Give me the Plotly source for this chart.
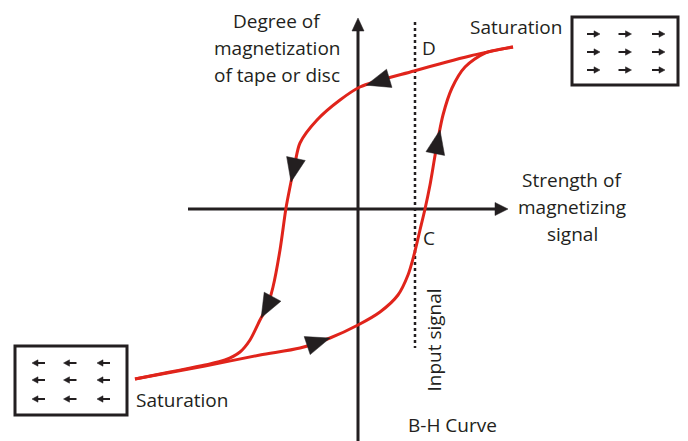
import numpy as np
import plotly.graph_objects as go

# ---- data (coordinates relative to the axes origin, y up) ----
desc_x = [155, 112, 56, 2, -18, -41, -58, -63, -68, -72, -78, -85, -91, -98, -108, -118, -133, -153, -188, -223]
desc_y = [162, 153, 138, 122, 109, 89, 66, 46, 22, 1, -41, -78, -98, -111, -131, -143, -151, -156, -163, -170]
asc_x = [-223, -153, -98, -58, -28, 0, 22, 40, 50, 56, 62, 67, 72, 78, 85, 94, 107, 127, 155]
asc_y = [-170, -157, -146, -139, -129, -116, -103, -86, -66, -46, -21, 0, 24, 59, 94, 121, 142, 156, 162]

desc_arrow_t = [0.266, 0.493, 0.738]
asc_arrow_t = [0.348, 0.788]

input_x = 57
input_y = [187, -139]

box_right = dict(x0=214, x1=320, y0=124, y1=192)
box_right_cols = [235.5, 267, 300.5]
box_right_rows = [175, 157, 139]
box_left = dict(x0=-343, x1=-231, y0=-206, y1=-137)
box_left_cols = [-319.5, -288, -254.5]
box_left_rows = [-154, -171, -190]

y_label_lines = ["Degree of", "magnetization", "of tape or disc"]
x_label_lines = ["Strength of", "magnetizing", "signal"]

RED = "#e0241b"
BLK = "#231f20"
FONT = "Open Sans"
FS = 19
LINE_GAP = 27

fig = go.Figure()

shapes = []


def tri(tip, d, L, W, color=BLK):
    d = np.asarray(d, float)
    d = d / np.linalg.norm(d)
    p = np.array([-d[1], d[0]])
    tip = np.asarray(tip, float)
    back = tip - d * L
    a = back + p * W
    b = back - p * W
    return dict(type="path", xref="x", yref="y",
                path=f"M {tip[0]} {tip[1]} L {a[0]} {a[1]} L {b[0]} {b[1]} Z",
                fillcolor=color, line=dict(color=color, width=0.5), layer="above")


def point_at(xs, ys, t):
    xs = np.asarray(xs, float)
    ys = np.asarray(ys, float)
    seg = np.hypot(np.diff(xs), np.diff(ys))
    cum = np.concatenate([[0], np.cumsum(seg)])
    s = t * cum[-1]
    i = min(np.searchsorted(cum, s) - 1, len(seg) - 1)
    i = max(i, 0)
    f = (s - cum[i]) / seg[i]
    x = xs[i] + f * (xs[i + 1] - xs[i])
    y = ys[i] + f * (ys[i + 1] - ys[i])
    d = (xs[i + 1] - xs[i], ys[i + 1] - ys[i])
    return (x, y), d


# axes
shapes.append(dict(type="line", x0=0, x1=0, y0=-232, y1=180, line=dict(color=BLK, width=3), layer="below"))
shapes.append(dict(type="line", x0=-170, x1=140, y0=0, y1=0, line=dict(color=BLK, width=3), layer="below"))
shapes.append(tri((0, 191), (0, 1), 13, 6))
shapes.append(tri((150, 0), (1, 0), 13, 6.5))

# dotted input signal line
shapes.append(dict(type="line", x0=input_x, x1=input_x, y0=input_y[0], y1=input_y[1],
                   line=dict(color=BLK, width=2.5, dash="dot"), layer="below"))

# curve arrows
for t in desc_arrow_t:
    pt, d = point_at(desc_x, desc_y, t)
    shapes.append(tri(pt, d, 24, 9.5))
for t in asc_arrow_t:
    pt, d = point_at(asc_x, asc_y, t)
    shapes.append(tri(pt, d, 24, 9.5))

# boxes
for b in (box_right, box_left):
    shapes.append(dict(type="rect", x0=b["x0"], x1=b["x1"], y0=b["y0"], y1=b["y1"],
                       line=dict(color=BLK, width=3), fillcolor="white", layer="below"))
for cx in box_right_cols:
    for cy in box_right_rows:
        shapes.append(dict(type="line", x0=cx - 6.5, x1=cx + 1, y0=cy, y1=cy, line=dict(color=BLK, width=2)))
        shapes.append(tri((cx + 6.5, cy), (1, 0), 6, 3.2))
for cx in box_left_cols:
    for cy in box_left_rows:
        shapes.append(dict(type="line", x0=cx + 6.5, x1=cx - 1, y0=cy, y1=cy, line=dict(color=BLK, width=2)))
        shapes.append(tri((cx - 6.5, cy), (-1, 0), 6, 3.2))

# curves
fig.add_trace(go.Scatter(x=desc_x, y=desc_y, mode="lines",
                         line=dict(color=RED, width=3, shape="spline", smoothing=0.8),
                         hoverinfo="skip", showlegend=False))
fig.add_trace(go.Scatter(x=asc_x, y=asc_y, mode="lines",
                         line=dict(color=RED, width=3, shape="spline", smoothing=0.8),
                         hoverinfo="skip", showlegend=False))


def ann(text, x, y, angle=0, xanchor="center"):
    return dict(text=text, x=x, y=y, xref="x", yref="y", showarrow=False,
                font=dict(family=FONT, size=FS, color=BLK), textangle=angle,
                xanchor=xanchor, yanchor="middle", align="center")


annotations = []
for k, line in enumerate(y_label_lines):
    annotations.append(ann(line, -81, 188 - k * LINE_GAP))
for k, line in enumerate(x_label_lines):
    annotations.append(ann(line, 214, 29 - k * LINE_GAP))
annotations += [
    ann("Saturation", 158, 182),
    ann("Saturation", -176.5, -191),
    ann("D", 71, 161.5),
    ann("C", 71, -29),
    ann("Input signal", 75.5, -131, angle=-90),
    ann("B-H Curve", 94.5, -216),
]

fig.update_layout(
    width=688, height=441,
    margin=dict(l=0, r=0, t=0, b=0),
    paper_bgcolor="white", plot_bgcolor="white",
    xaxis=dict(range=[-358, 330], visible=False, fixedrange=True),
    yaxis=dict(range=[-232, 209], visible=False, fixedrange=True),
    shapes=shapes, annotations=annotations, showlegend=False,
)

fig.write_html("out.html", config={"displayModeBar": False},
               post_script="document.body.style.margin='0';document.body.style.overflow='hidden';")
